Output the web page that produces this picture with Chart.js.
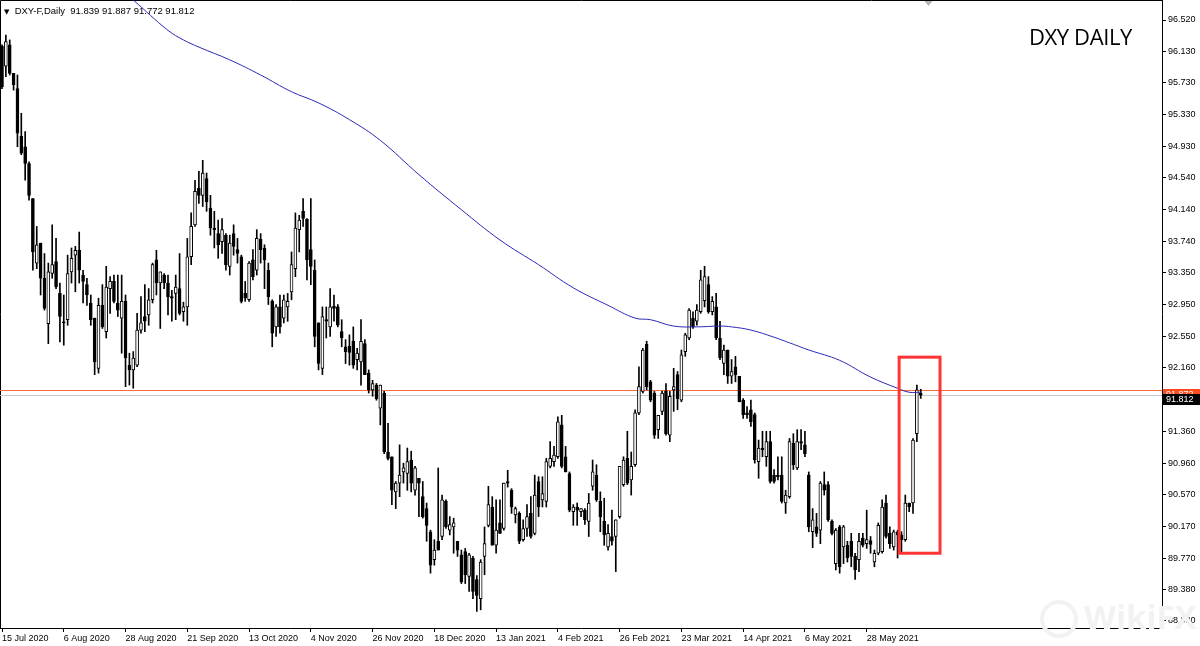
<!DOCTYPE html>
<html>
<head>
<meta charset="utf-8">
<script src="https://cdn.jsdelivr.net/npm/chart.js@4.4.1/dist/chart.umd.min.js"></script>
<style>
  html, body { margin: 0; padding: 0; background: #fff; }
  #wrap { position: relative; width: 1200px; height: 646px; overflow: hidden; }
  #c { position: absolute; left: 0; top: 0; }
  .hdr { position: absolute; left: 4px; top: 5px; font: 9.5px "Liberation Sans", Arial, sans-serif; color: #000; white-space: pre; line-height: 11px; }
  .hdr .tri { font-family: "DejaVu Sans"; font-size: 7px; }
  .title { position: absolute; left: 1029px; top: 21px; font: 22px "Open Sans", sans-serif; color: #000; letter-spacing: -0.4px; }
  .mark { position: absolute; left: 1084px; top: 594px; font: bold 33px "Open Sans", sans-serif; color: #f2f2f2; }
  .mark-ring { position: absolute; left: 1040px; top: 600px; width: 30px; height: 30px; border: 4px solid #f2f2f2; border-radius: 50%; }
</style>
</head>
<body>
<div id="wrap">
  <canvas id="c" width="1200" height="646"></canvas>
  <div class="mark-ring"></div>
  <div class="mark">WikiFX</div>
  <div class="hdr"><span class="tri">▼</span>  DXY-F,Daily  91.839 91.887 91.772 91.812</div>
  <div class="title">DXY DAILY</div>
</div>
<script>
// daily candles, bar 0 = 15 Jul 2020
const opens = [
  96.19, 95.94, 96.21, 95.85, 95.66, 95.06, 94.93, 94.72, 94.28, 93.47,
  93.72, 93.28, 92.71, 93.34, 93.49, 93.09, 92.73, 92.76, 93.36, 93.57,
  93.63, 93.32, 93.20, 92.97, 92.78, 92.15, 92.94, 92.61, 93.15, 93.24,
  92.97, 92.78, 92.99, 92.19, 92.13, 92.19, 92.63, 92.80, 92.82, 93.01,
  93.51, 93.22, 93.32, 93.22, 93.05, 93.09, 93.15, 92.86, 92.92, 93.55,
  93.95, 94.41, 94.32, 94.53, 94.16, 93.91, 93.84, 93.74, 93.82, 93.43,
  93.84, 93.64, 93.55, 93.09, 93.01, 93.51, 93.38, 93.77, 93.66, 93.38,
  92.99, 92.67, 92.92, 92.78, 92.92, 93.11, 93.40, 93.89, 94.12, 94.02,
  93.64, 93.38, 92.72, 92.15, 92.76, 92.67, 92.93, 92.92, 92.61, 92.42,
  92.43, 92.49, 92.26, 92.23, 92.46, 92.09, 91.88, 91.94, 91.65, 91.84,
  91.10, 91.04, 90.60, 90.71, 90.85, 90.83, 91.00, 90.62, 90.77, 90.54,
  90.39, 90.10, 89.75, 89.98, 90.04, 90.48, 90.12, 90.16, 89.98, 89.81,
  89.85, 89.54, 89.77, 89.50, 89.26, 89.79, 90.18, 90.41, 89.93, 90.21,
  90.14, 90.73, 90.62, 90.31, 90.33, 90.00, 90.14, 90.33, 90.08, 90.73,
  90.50, 90.48, 90.92, 90.98, 91.04, 91.44, 91.04, 90.83, 90.35, 90.41,
  90.35, 90.37, 90.23, 90.67, 90.81, 90.48, 90.23, 89.91, 90.04, 90.04,
  90.29, 90.69, 91.02, 90.75, 90.94, 91.59, 91.86, 92.45, 91.98, 91.84,
  91.38, 91.61, 91.86, 91.31, 91.88, 92.07, 91.75, 92.36, 92.53, 92.78,
  92.74, 92.86, 93.00, 93.20, 92.86, 92.92, 92.53, 92.21, 92.38, 92.05,
  92.17, 92.05, 91.75, 91.59, 91.63, 91.57, 90.98, 91.15, 91.04, 91.23,
  90.81, 90.81, 90.81, 90.46, 90.54, 91.21, 90.90, 91.23, 91.19, 90.81,
  90.10, 90.16, 90.12, 90.69, 90.69, 90.23, 89.70, 90.16, 89.91, 89.93,
  89.98, 89.79, 89.75, 90.02, 89.95, 89.99, 89.72, 89.83, 89.85, 90.46,
  90.08, 89.91, 90.10, 90.06, 90.00, 90.46, 90.46, 91.33, 91.839
];
const highs = [
  96.21, 96.33, 96.27, 95.85, 95.83, 95.35, 95.12, 94.74, 94.28, 93.93,
  93.72, 93.59, 93.47, 93.95, 93.78, 93.22, 93.07, 93.57, 93.66, 93.68,
  93.86, 93.38, 93.28, 93.07, 92.78, 93.03, 93.20, 93.43, 93.30, 93.32,
  93.32, 93.32, 93.07, 92.34, 92.36, 92.84, 93.05, 93.20, 93.15, 93.47,
  93.63, 93.36, 93.34, 93.32, 93.13, 93.32, 93.59, 92.98, 93.78, 94.10,
  94.51, 94.62, 94.76, 94.60, 94.32, 94.12, 94.01, 94.03, 93.84, 93.82,
  93.95, 93.78, 93.57, 93.24, 93.49, 93.64, 93.89, 93.84, 93.70, 93.47,
  93.01, 92.95, 93.07, 93.07, 93.09, 93.61, 94.10, 94.07, 94.28, 94.03,
  94.28, 93.51, 92.72, 92.92, 92.92, 93.15, 93.07, 92.95, 92.76, 92.51,
  92.57, 92.67, 92.40, 92.76, 92.51, 92.13, 92.00, 91.96, 91.94, 91.86,
  91.46, 91.04, 90.73, 91.19, 90.96, 91.15, 91.11, 90.92, 90.77, 90.73,
  90.46, 90.12, 90.00, 90.90, 90.56, 90.50, 90.29, 90.27, 89.98, 89.87,
  89.89, 89.83, 89.79, 89.55, 89.75, 90.16, 90.67, 90.54, 90.50, 90.50,
  90.71, 90.87, 90.64, 90.41, 90.35, 90.25, 90.44, 90.54, 90.81, 90.79,
  90.79, 91.02, 91.23, 91.17, 91.54, 91.56, 91.17, 90.85, 90.44, 90.46,
  90.39, 90.39, 90.58, 91.00, 90.94, 90.60, 90.52, 90.19, 90.37, 90.25,
  90.92, 91.04, 91.36, 91.10, 91.63, 92.17, 92.40, 92.49, 92.00, 91.86,
  91.56, 91.86, 91.96, 91.86, 92.15, 92.11, 92.38, 92.59, 92.90, 92.86,
  92.95, 93.38, 93.43, 93.30, 93.05, 93.09, 92.74, 92.44, 92.38, 92.26,
  92.30, 92.05, 91.77, 91.67, 91.75, 91.59, 91.25, 91.36, 91.36, 91.36,
  90.88, 91.04, 91.04, 90.62, 91.27, 91.33, 91.38, 91.38, 91.36, 90.85,
  90.39, 90.33, 90.73, 90.85, 90.73, 90.25, 90.14, 90.18, 90.18, 89.98,
  90.08, 89.83, 90.08, 90.08, 90.37, 90.04, 89.87, 90.21, 90.50, 90.56,
  90.16, 90.12, 90.12, 90.10, 90.56, 90.46, 91.27, 91.94, 91.887
];
const lows = [
  95.66, 95.81, 95.83, 95.64, 94.93, 94.83, 94.51, 94.26, 93.38, 93.40,
  93.07, 92.88, 92.46, 93.28, 93.15, 92.48, 92.44, 92.69, 93.22, 93.11,
  93.22, 92.97, 92.94, 92.69, 92.07, 92.09, 92.65, 92.53, 92.84, 92.97,
  92.80, 92.34, 91.92, 91.94, 91.90, 92.17, 92.59, 92.61, 92.69, 92.97,
  93.07, 92.65, 93.15, 92.82, 92.74, 92.76, 92.82, 92.74, 92.69, 93.45,
  93.93, 94.22, 94.18, 94.12, 93.82, 93.66, 93.53, 93.59, 93.38, 93.32,
  93.57, 93.47, 92.97, 92.99, 92.99, 93.26, 93.32, 93.47, 93.15, 92.95,
  92.42, 92.55, 92.59, 92.72, 92.74, 93.01, 93.30, 93.61, 93.93, 93.26,
  93.20, 92.42, 92.13, 92.07, 92.53, 92.55, 92.74, 92.67, 92.42, 92.21,
  92.19, 92.15, 92.13, 91.94, 92.07, 91.84, 91.80, 91.75, 91.44, 91.08,
  91.00, 90.44, 90.39, 90.54, 90.71, 90.62, 90.60, 90.56, 90.29, 90.27,
  89.98, 89.58, 89.68, 89.87, 90.00, 90.14, 90.06, 89.83, 89.79, 89.45,
  89.45, 89.35, 89.26, 89.10, 89.12, 89.56, 90.16, 89.93, 89.83, 90.08,
  90.12, 90.66, 90.33, 90.21, 89.95, 89.98, 90.04, 90.02, 90.06, 90.29,
  90.41, 90.41, 90.90, 90.92, 91.02, 90.90, 90.85, 90.35, 90.18, 90.18,
  90.29, 90.19, 90.04, 90.62, 90.48, 90.10, 89.93, 89.87, 89.93, 89.60,
  90.27, 90.67, 90.69, 90.56, 90.92, 91.57, 91.84, 91.88, 91.73, 91.27,
  91.27, 91.57, 91.31, 91.23, 91.61, 91.63, 91.73, 92.30, 92.51, 92.65,
  92.69, 92.84, 92.92, 92.84, 92.82, 92.51, 92.26, 92.07, 91.96, 91.96,
  91.98, 91.73, 91.52, 91.52, 91.42, 90.96, 90.77, 91.04, 90.92, 90.71,
  90.71, 90.75, 90.46, 90.33, 90.52, 90.88, 90.88, 91.13, 91.04, 90.10,
  89.90, 90.04, 89.95, 90.56, 90.23, 90.06, 89.62, 89.58, 89.70, 89.72,
  89.66, 89.50, 89.60, 89.91, 89.89, 89.83, 89.66, 89.81, 89.83, 90.02,
  89.89, 89.87, 89.77, 89.83, 89.98, 90.35, 90.33, 91.23, 91.772
];
const closes = [
  95.68, 96.25, 95.85, 95.71, 95.10, 94.85, 94.72, 94.32, 93.61, 93.70,
  93.28, 92.90, 93.36, 93.45, 93.17, 92.80, 92.72, 93.34, 93.53, 93.63,
  93.38, 93.24, 93.07, 92.76, 92.23, 92.94, 92.67, 93.17, 93.24, 92.99,
  92.88, 92.99, 92.28, 92.13, 92.28, 92.63, 92.72, 92.74, 93.01, 93.45,
  93.22, 93.36, 93.22, 93.05, 93.03, 93.17, 92.84, 92.92, 93.55, 93.93,
  94.37, 94.32, 94.60, 94.24, 93.91, 93.89, 93.70, 93.89, 93.45, 93.72,
  93.68, 93.59, 92.99, 93.03, 93.47, 93.30, 93.78, 93.64, 93.51, 93.05,
  92.59, 92.92, 92.67, 93.01, 92.99, 93.45, 93.91, 94.01, 94.03, 93.51,
  93.43, 92.55, 92.21, 92.80, 92.74, 92.92, 92.90, 92.69, 92.53, 92.36,
  92.35, 92.19, 92.34, 92.49, 92.07, 91.88, 91.96, 91.77, 91.94, 91.10,
  91.02, 90.62, 90.71, 90.81, 90.90, 90.98, 90.71, 90.90, 90.71, 90.29,
  90.18, 89.68, 89.87, 89.87, 90.50, 90.16, 90.19, 90.21, 89.87, 89.47,
  89.56, 89.81, 89.35, 89.30, 89.72, 89.95, 90.44, 89.93, 90.12, 90.08,
  90.71, 90.71, 90.41, 90.39, 89.98, 90.14, 90.29, 90.04, 90.56, 90.41,
  90.58, 90.98, 91.02, 91.06, 91.48, 90.92, 90.85, 90.37, 90.41, 90.37,
  90.39, 90.25, 90.46, 90.85, 90.50, 90.29, 90.06, 90.08, 89.98, 90.25,
  90.92, 91.00, 90.71, 90.92, 91.59, 91.92, 92.38, 91.92, 91.75, 91.31,
  91.56, 91.84, 91.33, 91.80, 91.92, 91.77, 92.32, 92.57, 92.88, 92.67,
  92.88, 93.26, 93.30, 92.86, 92.99, 92.53, 92.28, 92.38, 92.05, 92.11,
  92.07, 91.73, 91.57, 91.57, 91.48, 91.00, 91.15, 91.13, 91.23, 90.73,
  90.73, 90.79, 90.48, 90.56, 91.23, 90.94, 91.23, 91.21, 91.08, 90.16,
  90.25, 90.08, 90.71, 90.62, 90.25, 90.08, 90.12, 89.66, 90.16, 89.77,
  89.79, 89.62, 89.98, 89.93, 90.00, 89.94, 89.83, 90.18, 90.41, 90.04,
  89.95, 90.10, 90.06, 90.00, 90.46, 90.41, 91.25, 91.88, 91.812
];

// moving average (bar index / value)
const maBars = [30, 34, 43, 47, 51, 59, 67, 75, 82, 90, 98, 108, 119, 129, 139, 148, 157, 164, 168, 174, 180, 186, 189, 194, 200, 204, 209, 217, 225, 232, 235, 238];
const maValues = [96.93, 96.77, 96.39, 96.27, 96.18, 96.02, 95.83, 95.62, 95.48, 95.27, 95.01, 94.58, 94.14, 93.76, 93.45, 93.16, 92.94, 92.78, 92.76, 92.68, 92.67, 92.68, 92.67, 92.63, 92.54, 92.47, 92.38, 92.25, 92.04, 91.90, 91.85, 91.85];

const dateTickBars = [0, 16, 32, 48, 64, 80, 96, 112, 128, 144, 160, 176, 192, 208, 224];
const dateTickLabels = ["15 Jul 2020", "6 Aug 2020", "28 Aug 2020", "21 Sep 2020", "13 Oct 2020", "4 Nov 2020", "26 Nov 2020", "18 Dec 2020", "13 Jan 2021", "4 Feb 2021", "26 Feb 2021", "23 Mar 2021", "14 Apr 2021", "6 May 2021", "28 May 2021"];
const priceTicks = [96.520, 96.130, 95.730, 95.330, 94.930, 94.540, 94.140, 93.740, 93.350, 92.950, 92.550, 92.160, 91.760, 91.360, 90.960, 90.570, 90.170, 89.770, 89.380, 88.980];

const levelLine = 91.872;            // orange horizontal line
const bidPrice = closes[closes.length - 1];
const boxBars = [232.4, 243.0];      // highlighted range
const boxPrices = [92.29, 89.83];

const FONT = '"Liberation Sans", Arial, sans-serif';
const idx = closes.map((_, i) => i);

const overlay = {
  id: 'overlay',
  beforeDatasetsDraw(chart) {
    const { ctx, chartArea: a, scales: { y } } = chart;
    ctx.save();
    // frame
    ctx.strokeStyle = '#000';
    ctx.lineWidth = 1;
    ctx.beginPath();
    ctx.moveTo(a.left + 0.5, a.bottom);
    ctx.lineTo(a.left + 0.5, a.top + 0.5);
    ctx.lineTo(a.right, a.top + 0.5);
    ctx.stroke();
    // level + bid lines
    const yl = Math.round(y.getPixelForValue(levelLine)) + 0.5;
    ctx.strokeStyle = '#ff6a3a';
    ctx.beginPath(); ctx.moveTo(a.left, yl); ctx.lineTo(a.right, yl); ctx.stroke();
    const yb = Math.round(y.getPixelForValue(bidPrice)) + 0.5;
    ctx.strokeStyle = '#c8c8c8';
    ctx.beginPath(); ctx.moveTo(a.left, yb); ctx.lineTo(a.right, yb); ctx.stroke();
    ctx.restore();
  },
  afterDatasetsDraw(chart) {
    const { ctx, scales: { x, y } } = chart;
    ctx.save();
    // red highlight box
    const x0 = x.getPixelForValue(boxBars[0]), x1 = x.getPixelForValue(boxBars[1]);
    const y0 = y.getPixelForValue(boxPrices[0]), y1 = y.getPixelForValue(boxPrices[1]);
    ctx.strokeStyle = '#ff3434';
    ctx.lineWidth = 3;
    ctx.strokeRect(x0, y0, x1 - x0, y1 - y0);
    // chart shift marker
    const xs = x.getPixelForValue(240);
    ctx.fillStyle = '#b4b4b4';
    ctx.beginPath();
    ctx.moveTo(xs - 4, 1); ctx.lineTo(xs + 4, 1); ctx.lineTo(xs, 6); ctx.closePath();
    ctx.fill();
    ctx.restore();
  },
  afterDraw(chart) {
    const { ctx, chartArea: a, scales: { y } } = chart;
    ctx.save();
    ctx.font = '9px ' + FONT;
    ctx.textBaseline = 'middle';
    // price tags hang just below their line, as in the terminal
    const tag = (price, bg, txt) => {
      const py = Math.round(y.getPixelForValue(price));
      ctx.fillStyle = bg;
      ctx.fillRect(a.right + 1, py - 1, 1200 - a.right - 1, 11);
      ctx.fillStyle = '#fff';
      ctx.fillText(txt, a.right + 4, py + 4.5);
    };
    tag(levelLine, '#ff4a1e', levelLine.toFixed(3));
    tag(bidPrice, '#000', bidPrice.toFixed(3));
    ctx.restore();
  }
};

new Chart(document.getElementById('c'), {
  type: 'bar',
  data: {
    datasets: [
      {
        type: 'line',
        data: maBars.map((b, j) => ({ x: b, y: maValues[j] })),
        borderColor: '#2a2ab8',
        borderWidth: 1,
        pointRadius: 0,
        tension: 0.4,
        order: 0
      },
      {
        data: idx.map(i => ({ x: i, y: [Math.min(opens[i], closes[i]), Math.max(opens[i], closes[i])] })),
        backgroundColor: idx.map(i => closes[i] >= opens[i] ? '#ffffff' : '#000000'),
        borderColor: '#000',
        borderWidth: 1,
        borderSkipped: false,
        barThickness: 3,
        minBarLength: 1,
        grouped: false,
        order: 1
      },
      {
        data: idx.map(i => ({ x: i, y: [lows[i], highs[i]] })),
        backgroundColor: '#000',
        barThickness: 1,
        grouped: false,
        order: 2
      }
    ]
  },
  options: {
    responsive: false,
    devicePixelRatio: 1,
    animation: false,
    layout: { padding: 0, autoPadding: false },
    plugins: { legend: { display: false }, tooltip: { enabled: false } },
    scales: {
      x: {
        type: 'linear',
        min: -0.52,
        max: 300.5,
        offset: false,
        grid: { offset: false, drawOnChartArea: false, drawTicks: true, tickLength: 4, color: '#000' },
        border: { display: true, color: '#000' },
        ticks: {
          autoSkip: false, maxRotation: 0, align: 'start', padding: 1, color: '#000',
          font: { family: FONT, size: 9 },
          callback: (v, i) => dateTickLabels[i]
        },
        afterBuildTicks: s => { s.ticks = dateTickBars.map(v => ({ value: v })); },
        afterFit: s => { s.height = 18; s.paddingLeft = 0; s.paddingRight = 0; }
      },
      y: {
        type: 'linear',
        position: 'right',
        min: 88.892,
        max: 96.771,
        beginAtZero: false,
        grid: { drawOnChartArea: false, drawTicks: true, tickLength: 4, color: '#000' },
        border: { display: true, color: '#000' },
        ticks: {
          autoSkip: false, padding: 2, color: '#000',
          font: { family: FONT, size: 9 },
          callback: v => v.toFixed(3)
        },
        afterBuildTicks: s => { s.ticks = priceTicks.map(v => ({ value: v })); },
        afterFit: s => { s.width = 38; s.paddingTop = 0; s.paddingBottom = 0; }
      }
    }
  },
  plugins: [overlay]
});
</script>
</body>
</html>
